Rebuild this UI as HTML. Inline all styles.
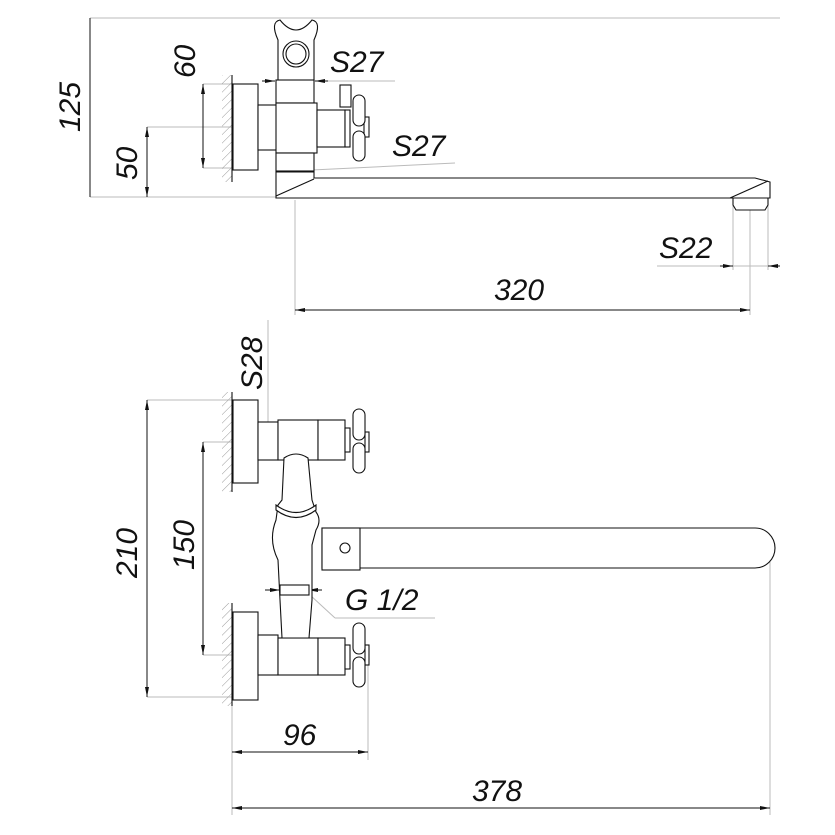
<!DOCTYPE html>
<html><head><meta charset="utf-8"><style>
html,body{margin:0;padding:0;background:#fff}
svg{display:block}
text{font-family:"Liberation Sans",sans-serif;font-style:italic;font-size:30px;fill:#111}
</style></head><body>
<svg width="835" height="835" viewBox="0 0 835 835" xmlns="http://www.w3.org/2000/svg">
<defs>
<pattern id="h" width="6" height="6" patternUnits="userSpaceOnUse" patternTransform="rotate(45)"><line x1="0" y1="0" x2="0" y2="6" stroke="#999" stroke-width="1"/></pattern>
<marker id="a" viewBox="0 0 10 4" refX="10" refY="2" markerWidth="10" markerHeight="4" orient="auto-start-reverse"><path d="M0,0 L10,2 L0,4z" fill="#111"/></marker>
</defs>
<g stroke="#bbb" stroke-width="1" fill="none">
<line x1="90" y1="18" x2="780" y2="18"/>
<line x1="90" y1="18" x2="90" y2="197"/>
<line x1="90" y1="197" x2="276" y2="197"/>
<line x1="147" y1="127" x2="232" y2="127"/>
<line x1="147" y1="127" x2="147" y2="197"/>
<line x1="203" y1="84" x2="232" y2="84"/><line x1="203" y1="168" x2="232" y2="168"/>
<line x1="312" y1="81" x2="395" y2="81"/>
<line x1="312" y1="170" x2="455" y2="163"/>
<line x1="295" y1="200" x2="295" y2="315"/>
<line x1="750" y1="210" x2="750" y2="315"/>
<line x1="733" y1="200" x2="733" y2="270"/><line x1="768" y1="200" x2="768" y2="270"/>
<line x1="657" y1="266" x2="780" y2="266"/>
<line x1="147" y1="400" x2="232" y2="400"/>
<line x1="147" y1="697" x2="232" y2="697"/>
<line x1="203" y1="442" x2="232" y2="442"/>
<line x1="203" y1="655" x2="232" y2="655"/>
<line x1="268" y1="320" x2="268" y2="445"/>
<line x1="232" y1="705" x2="232" y2="815"/>
<line x1="368" y1="660" x2="368" y2="760"/>
<line x1="770" y1="560" x2="770" y2="815"/>
<line x1="310" y1="595" x2="335" y2="618"/><line x1="335" y1="618" x2="435" y2="618"/>
</g>
<g stroke="#111" stroke-width="1" fill="none">
<line x1="90" y1="18" x2="90" y2="197"/>
<line x1="147" y1="127" x2="147" y2="197" marker-start="url(#a)" marker-end="url(#a)"/>
<line x1="203" y1="84" x2="203" y2="168" marker-start="url(#a)" marker-end="url(#a)"/>
<line x1="295" y1="310" x2="750" y2="310" marker-start="url(#a)" marker-end="url(#a)"/>
<line x1="720" y1="266" x2="733" y2="266" marker-end="url(#a)"/>
<line x1="780" y1="266" x2="768" y2="266" marker-end="url(#a)"/>
<line x1="147" y1="400" x2="147" y2="697" marker-start="url(#a)" marker-end="url(#a)"/>
<line x1="203" y1="442" x2="203" y2="655" marker-start="url(#a)" marker-end="url(#a)"/>
<line x1="268" y1="422" x2="268" y2="460" marker-start="url(#a)" marker-end="url(#a)"/>
<line x1="232" y1="752" x2="368" y2="752" marker-start="url(#a)" marker-end="url(#a)"/>
<line x1="232" y1="808" x2="770" y2="808" marker-start="url(#a)" marker-end="url(#a)"/>
<line x1="262" y1="81" x2="275" y2="81" marker-end="url(#a)"/><line x1="328" y1="81" x2="315" y2="81" marker-end="url(#a)"/>
<line x1="276" y1="172" x2="290" y2="172" marker-end="url(#a)"/><line x1="314" y1="172" x2="300" y2="172" marker-end="url(#a)"/>
<line x1="265" y1="590" x2="280" y2="590" marker-end="url(#a)"/><line x1="322" y1="590" x2="308" y2="590" marker-end="url(#a)"/>
</g>
<g stroke="#111" stroke-width="1.1" fill="#fff">
<!-- top view -->
<rect x="222" y="75" width="10" height="107" fill="url(#h)" stroke="none"/>
<line x1="232" y1="75" x2="232" y2="182"/>
<rect x="233" y="84" width="25" height="86"/>
<rect x="258" y="105" width="20" height="45"/>
<path d="M278,40 Q270,22 280,20 Q296,40 312,20 Q322,22 314,40 L314,80 L278,80z"/>
<circle cx="296" cy="54" r="13"/><circle cx="296" cy="54" r="10"/>
<rect x="276" y="80" width="38" height="23"/>
<rect x="276" y="103" width="41" height="50"/>
<rect x="276" y="153" width="38" height="18"/>
<rect x="317" y="110" width="28" height="37"/>
<rect x="345" y="110" width="5" height="37"/>
<rect x="340" y="85" width="11" height="22"/>
<rect x="364" y="117" width="5" height="20"/>
<rect x="353" y="95" width="12" height="31" rx="6"/>
<rect x="353" y="131" width="12" height="30" rx="6"/>
<path d="M276,172 L314,172 L314,178 L755,178 L770,182 L770,198 L298,198 L276,198z"/>
<path d="M276,196 L314,179" fill="none"/>
<path d="M730,198 L768,181" fill="none"/>
<path d="M733,198 L768,198 L768,205 L765,210 L736,210 L733,205z"/>
<!-- bottom view upper valve -->
<rect x="222" y="392" width="10" height="100" fill="url(#h)" stroke="none"/>
<line x1="232" y1="392" x2="232" y2="492"/>
<rect x="233" y="400" width="25" height="83"/>
<rect x="258" y="422" width="20" height="38"/>
<rect x="278" y="420" width="40" height="40"/>
<rect x="318" y="420" width="27" height="40"/>
<rect x="345" y="428" width="5" height="24"/>
<rect x="365" y="432" width="4" height="20"/>
<rect x="353" y="409" width="12" height="31" rx="6"/>
<rect x="353" y="443" width="12" height="30" rx="6"/>
<!-- lower valve -->
<rect x="222" y="603" width="10" height="103" fill="url(#h)" stroke="none"/>
<line x1="232" y1="603" x2="232" y2="706"/>
<rect x="233" y="612" width="25" height="88"/>
<rect x="258" y="635" width="20" height="40"/>
<rect x="278" y="638" width="40" height="37"/>
<rect x="318" y="638" width="27" height="37"/>
<rect x="345" y="645" width="5" height="24"/>
<rect x="365" y="645" width="4" height="20"/>
<rect x="353" y="623" width="12" height="31" rx="6"/>
<rect x="353" y="657" width="12" height="30" rx="6"/>
<!-- spout -->
<path d="M322,528 L755,528 A20,20 0 0 1 755,568 L322,568z"/>
<rect x="322" y="528" width="38" height="42"/>
<circle cx="345" cy="548" r="5"/>
<!-- central body -->
<path d="M284,458 Q296,450 308,458 L312,500 L316,512 Q322,520 316,530 L312,545 L312,600 L309,638 L282,638 L280,600 L278,560 Q268,540 276,520 L278,505 L282,500z"/>
<path d="M276,510 Q296,525 316,510 L316,505 Q296,520 276,505z"/>
<rect x="280" y="585" width="29" height="10"/>
</g>
<text x="330" y="72">S27</text>
<text x="392" y="156">S27</text>
<text x="659" y="258">S22</text>
<text x="494" y="300">320</text>
<text x="345" y="610">G 1/2</text>
<text x="283" y="745">96</text>
<text x="472" y="801">378</text>
<text transform="translate(195,78) rotate(-90)">60</text>
<text transform="translate(80,132) rotate(-90)">125</text>
<text transform="translate(137,180) rotate(-90)">50</text>
<text transform="translate(262,390) rotate(-90)">S28</text>
<text transform="translate(137,578) rotate(-90)">210</text>
<text transform="translate(194,570) rotate(-90)">150</text>
</svg>
</body></html>
